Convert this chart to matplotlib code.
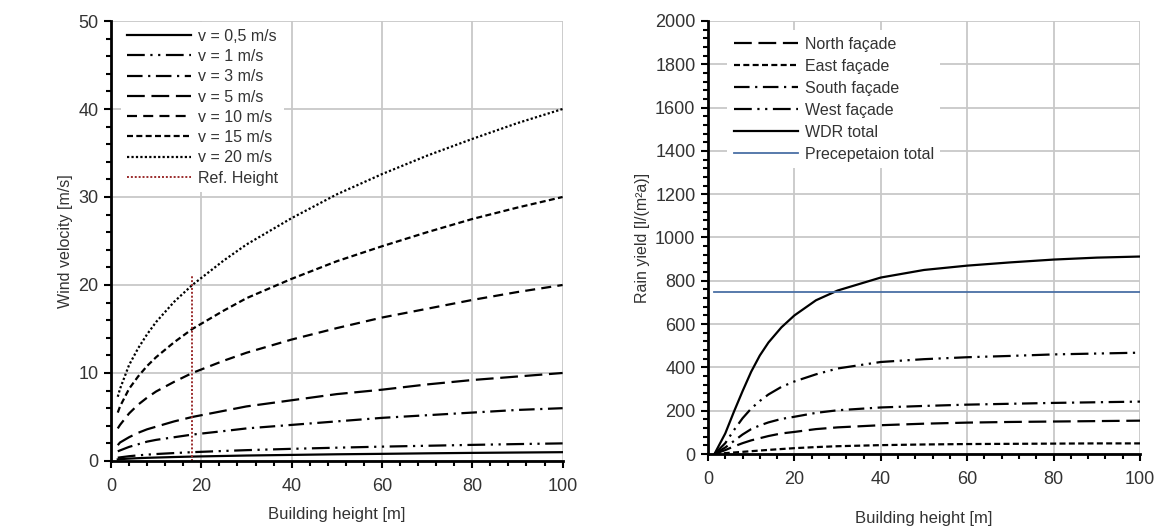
import numpy as np
import matplotlib.pyplot as plt
from matplotlib.ticker import MultipleLocator

plt.rcParams['font.family'] = ['Liberation Sans', 'DejaVu Sans']
plt.rcParams['text.color'] = '#333333'
plt.rcParams['axes.labelcolor'] = '#333333'

# Left chart: wind velocity profiles
height_v = [1.5, 2, 4, 6, 8, 10, 14, 18, 25, 30, 40, 50, 60, 70, 80, 90, 100]
v_05 = [0.18, 0.21, 0.27, 0.32, 0.36, 0.39, 0.45, 0.5, 0.57, 0.62, 0.69, 0.76, 0.81, 0.87, 0.92, 0.96, 1.0]
v_1 = [0.37, 0.41, 0.54, 0.64, 0.72, 0.79, 0.90, 1.0, 1.14, 1.23, 1.38, 1.51, 1.63, 1.73, 1.83, 1.92, 2.0]
v_3 = [1.1, 1.2, 1.6, 1.9, 2.2, 2.4, 2.7, 3.0, 3.4, 3.7, 4.1, 4.5, 4.9, 5.2, 5.5, 5.8, 6.0]
v_5 = [1.8, 2.1, 2.7, 3.2, 3.6, 3.9, 4.5, 5.0, 5.7, 6.2, 6.9, 7.6, 8.1, 8.7, 9.2, 9.6, 10.0]
v_10 = [3.7, 4.1, 5.4, 6.4, 7.2, 7.9, 9.0, 10.0, 11.4, 12.3, 13.8, 15.1, 16.3, 17.3, 18.3, 19.2, 20.0]
v_15 = [5.5, 6.2, 8.2, 9.6, 10.8, 11.8, 13.5, 15.0, 17.1, 18.5, 20.7, 22.7, 24.4, 26.0, 27.5, 28.8, 30.0]
v_20 = [7.3, 8.2, 10.9, 12.8, 14.4, 15.8, 18.1, 20.0, 22.8, 24.6, 27.6, 30.3, 32.6, 34.7, 36.6, 38.4, 40.0]
ref_height = [18, 18]
ref_v = [0, 21]

# Right chart: rain yield per facade
height_r = [1.5, 4, 6, 8, 10, 12, 14, 17, 20, 25, 30, 40, 50, 60, 70, 80, 90, 100]
north = [0, 18, 35, 50, 63, 73, 83, 95, 102, 115, 123, 133, 140, 145, 148, 150, 152, 154]
east = [0, 4, 7, 10, 13, 16, 19, 23, 27, 32, 36, 41, 44, 46, 47, 48, 49, 49]
south = [0, 30, 60, 90, 115, 132, 146, 162, 172, 190, 202, 215, 222, 228, 232, 236, 239, 242]
west = [0, 50, 110, 165, 210, 245, 275, 310, 335, 368, 395, 425, 438, 447, 453, 460, 464, 468]
wdr = [0, 95, 195, 290, 380, 455, 515, 585, 640, 710, 755, 815, 850, 870, 885, 898, 907, 912]
precip_h = [1.5, 100]
precip = [748, 748]

dash_dotdot = (0, (8, 2.5, 1, 2.5, 1, 2.5))
dash_dot = (0, (7, 2.5, 1, 2.5))
long_dash = (0, (8, 3))
mid_dash = (0, (4.5, 2.8))
short_dash = (0, (2.7, 1.5))
dotted = (0, (1, 1))

fig = plt.figure(figsize=(11.61, 5.32), dpi=100)
ax1 = fig.add_axes([0.0956, 0.1335, 0.389, 0.827])
ax2 = fig.add_axes([0.6098, 0.1466, 0.3721, 0.814])

lw = 1.6
ax1.plot(height_v, v_05, color='black', lw=lw, ls='-', label='v = 0,5 m/s')
ax1.plot(height_v, v_1, color='black', lw=lw, ls=dash_dotdot, label='v = 1 m/s')
ax1.plot(height_v, v_3, color='black', lw=lw, ls=dash_dot, label='v = 3 m/s')
ax1.plot(height_v, v_5, color='black', lw=lw, ls=long_dash, label='v = 5 m/s')
ax1.plot(height_v, v_10, color='black', lw=lw, ls=mid_dash, label='v = 10 m/s')
ax1.plot(height_v, v_15, color='black', lw=lw, ls=short_dash, label='v = 15 m/s')
ax1.plot(height_v, v_20, color='black', lw=lw, ls=dotted, label='v = 20 m/s')
ax1.plot(ref_height, ref_v, color='#9b2c2c', lw=1.4, ls=dotted, label='Ref. Height')

ax2.plot(height_r, north, color='black', lw=lw, ls=long_dash, label='North façade')
ax2.plot(height_r, east, color='black', lw=lw, ls=short_dash, label='East façade')
ax2.plot(height_r, south, color='black', lw=lw, ls=dash_dot, label='South façade')
ax2.plot(height_r, west, color='black', lw=lw, ls=dash_dotdot, label='West façade')
ax2.plot(height_r, wdr, color='black', lw=lw, ls='-', label='WDR total')
ax2.plot(precip_h, precip, color='#4a6fa5', lw=1.3, ls='-', label='Precepetaion total')

for ax in (ax1, ax2):
    ax.set_xlim(0, 100)
    ax.xaxis.set_major_locator(MultipleLocator(20))
    ax.xaxis.set_minor_locator(MultipleLocator(4))
    ax.grid(True, which='major', color='#c8c8c8', lw=1.3)
    ax.set_axisbelow(True)
    for s in ('top', 'right'):
        ax.spines[s].set_visible(False)
    for s in ('left', 'bottom'):
        ax.spines[s].set_linewidth(2)
    ax.tick_params(which='major', direction='out', length=5, width=1.5,
                   labelsize=13, labelcolor='#333333')
    ax.tick_params(which='minor', direction='out', length=3.5, width=1.5)
    ax.tick_params(axis='x', pad=7)
    ax.tick_params(axis='y', pad=4)
    ax.set_xlabel('Building height [m]', fontsize=12)

ax1.legend(loc='upper left', bbox_to_anchor=(0.022, 0.997), fontsize=11.5,
           frameon=True, fancybox=False, edgecolor='none', facecolor='white',
           framealpha=1, handlelength=4.0, handletextpad=0.4, labelspacing=0.33,
           borderaxespad=0)
ax2.legend(loc='upper left', bbox_to_anchor=(0.045, 0.978), fontsize=11.5,
           frameon=True, fancybox=False, edgecolor='none', facecolor='white',
           framealpha=1, handlelength=4.0, handletextpad=0.45, labelspacing=0.44,
           borderaxespad=0)

ax1.set_ylim(0, 50)
ax1.yaxis.set_major_locator(MultipleLocator(10))
ax1.yaxis.set_minor_locator(MultipleLocator(2))
ax1.set_ylabel('Wind velocity [m/s]', fontsize=11.5)
ax1.xaxis.labelpad = 9

ax2.set_ylim(0, 2000)
ax2.yaxis.set_major_locator(MultipleLocator(200))
ax2.yaxis.set_minor_locator(MultipleLocator(40))
ax2.set_ylabel('Rain yield [l/(m²a)]', fontsize=11.5)
ax2.xaxis.labelpad = 17

fig.savefig('out.png', dpi=100)
